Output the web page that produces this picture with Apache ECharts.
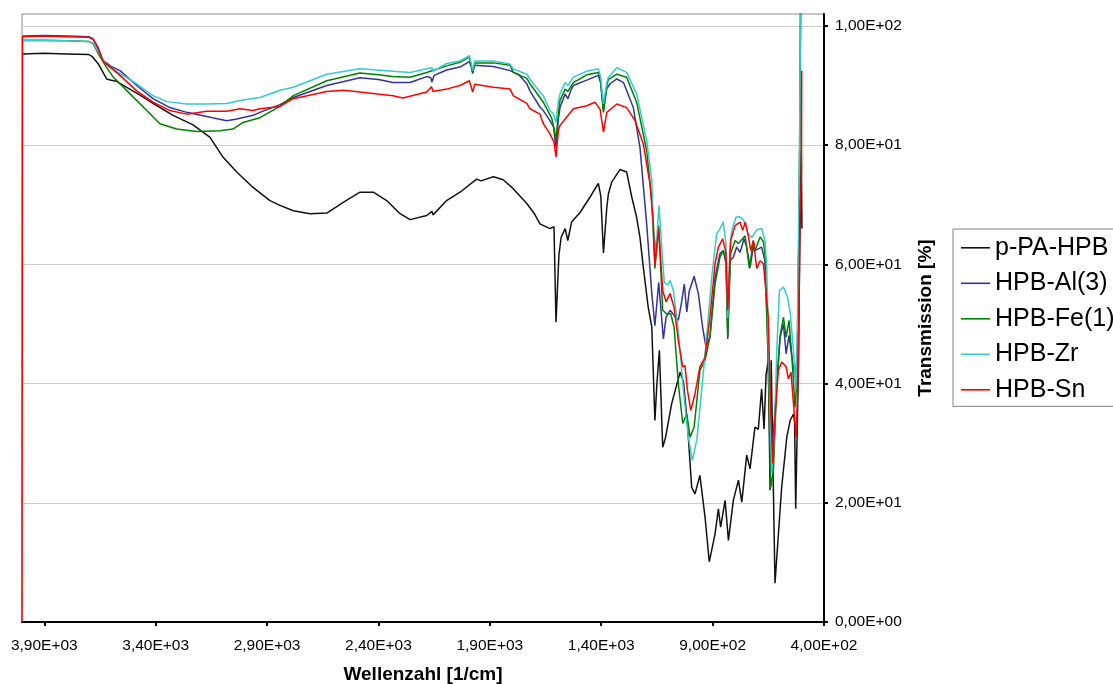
<!DOCTYPE html>
<html>
<head>
<meta charset="utf-8">
<title>IR-Spektren</title>
<script src="https://cdn.jsdelivr.net/npm/echarts@6/dist/echarts.min.js"></script>
<style>
  html, body { margin: 0; padding: 0; background: #ffffff; }
  #chart { width: 1113px; height: 684px; }
</style>
</head>
<body>
<div id="chart"></div>
<script>
// Series names and colours
const seriesNames = ['p-PA-HPB', 'HPB-Al(3)', 'HPB-Fe(1)', 'HPB-Zr', 'HPB-Sn'];
const seriesColors = ['#111111', '#333399', '#008000', '#33cccc', '#ff0000'];

// Axis tick positions
const xTicks = [3900, 3400, 2900, 2400, 1900, 1400, 900, 400];
const yTicks = [0, 20, 40, 60, 80, 100];

// p-PA-HPB: wavenumber [1/cm] and transmission [%]
const wnPA = [3998, 3900, 3800, 3700, 3686, 3657, 3620, 3600, 3575, 3530, 3470, 3412, 3322, 3232, 3156, 3098, 3036, 2963, 2887, 2842,
  2782, 2707, 2632, 2558, 2483, 2423, 2363, 2303, 2258, 2183, 2160, 2155, 2094, 2034, 1959, 1940, 1884, 1840, 1795, 1734,
  1700, 1675, 1630, 1612, 1603, 1590, 1580, 1562, 1550, 1533, 1495, 1450, 1413, 1402, 1390, 1375, 1368, 1353, 1316, 1286,
  1263, 1241, 1226, 1211, 1189, 1173, 1159, 1150, 1139, 1124, 1111, 1084, 1046, 1031, 1013, 994, 979, 957, 934, 915,
  889, 874, 864, 844, 829, 807, 784, 769, 747, 732, 710, 695, 680, 669, 660, 650, 642, 637, 620, 590,
  567, 552, 537, 532, 527, 515, 508, 502, 499];
const tPA = [95.3, 95.4, 95.3, 95.2, 94.9, 93.6, 91.1, 90.9, 90.7, 89.7, 88.4, 87.0, 85.0, 83.4, 81.3, 78.0, 75.5, 72.9, 70.7, 69.9,
  69.0, 68.5, 68.6, 70.4, 72.1, 72.1, 70.7, 68.5, 67.5, 68.2, 68.9, 68.3, 70.7, 72.1, 74.3, 74.0, 74.7, 74.2, 72.7, 70.2,
  68.5, 66.8, 66.0, 66.3, 50.3, 61.5, 64.5, 66.0, 64.0, 67.1, 68.7, 71.3, 73.6, 71.5, 61.9, 69.5, 71.8, 73.8, 75.9, 75.5,
  71.3, 67.9, 64.5, 59.5, 52.8, 49.5, 33.8, 40.0, 45.6, 29.3, 31.0, 36.6, 41.9, 40.3, 33.3, 22.6, 21.5, 24.6, 17.6, 10.1,
  14.8, 19.0, 15.9, 20.4, 13.7, 20.4, 23.8, 20.1, 28.0, 25.7, 32.7, 32.3, 39.1, 32.4, 41.5, 43.9, 22.1, 43.9, 6.5, 22.6,
  31.0, 33.8, 34.9, 33.5, 19.0, 42.8, 65.1, 79.0, 66.0];

// HPB-Al(3)
const wnAl = [3998, 3900, 3800, 3700, 3680, 3660, 3635, 3600, 3560, 3485, 3412, 3336, 3261, 3171, 3081, 3036, 2963, 2932, 2842, 2782,
  2632, 2483, 2400, 2335, 2258, 2183, 2165, 2160, 2150, 2094, 2034, 1992, 1984, 1977, 1968, 1884, 1809, 1770, 1734, 1720,
  1675, 1660, 1630, 1614, 1603, 1592, 1585, 1562, 1550, 1533, 1525, 1465, 1413, 1403, 1390, 1375, 1360, 1330, 1300, 1256,
  1226, 1196, 1173, 1159, 1142, 1121, 1109, 1091, 1076, 1054, 1040, 1027, 1016, 1005, 983, 964, 945, 930, 912, 889,
  867, 852, 840, 832, 822, 807, 792, 777, 759, 747, 732, 717, 710, 680, 665, 650, 642, 632, 612, 597,
  582, 570, 557, 544, 530, 519, 510, 504];
const tAl = [98.3, 98.4, 98.3, 98.2, 97.8, 96.5, 94.2, 93.2, 92.5, 90.0, 87.8, 86.3, 85.5, 84.8, 84.1, 84.4, 85.0, 85.5, 86.8, 88.0,
  90.0, 91.3, 91.0, 90.5, 90.5, 91.5, 91.3, 90.6, 91.7, 92.6, 93.1, 94.0, 93.2, 92.0, 93.4, 93.2, 92.5, 91.8, 90.3, 89.1,
  86.4, 85.8, 84.1, 83.0, 79.6, 84.5, 86.3, 88.6, 87.8, 89.5, 90.0, 90.9, 91.7, 90.5, 85.8, 89.5, 90.3, 91.1, 90.5, 86.3,
  79.6, 66.8, 55.1, 49.7, 57.0, 47.5, 51.1, 52.3, 51.6, 50.6, 53.5, 56.7, 52.0, 55.5, 58.0, 55.1, 49.5, 46.1, 47.8, 57.8,
  61.8, 62.3, 60.1, 47.5, 60.6, 61.2, 62.9, 62.0, 64.3, 62.9, 59.5, 62.9, 62.3, 62.9, 60.6, 44.4, 44.2, 28.8, 40.0, 47.8,
  50.0, 45.0, 48.1, 44.4, 41.1, 45.0, 73.5, 108];

// HPB-Fe(1)
const wnFe = [3998, 3900, 3800, 3700, 3680, 3660, 3620, 3590, 3515, 3440, 3381, 3306, 3216, 3111, 3053, 3008, 2932, 2842, 2782, 2632,
  2483, 2400, 2335, 2258, 2183, 2094, 2034, 1992, 1984, 1977, 1968, 1884, 1809, 1795, 1734, 1720, 1675, 1660, 1622, 1610,
  1603, 1592, 1585, 1562, 1550, 1525, 1465, 1413, 1403, 1390, 1375, 1368, 1330, 1286, 1241, 1196, 1173, 1159, 1142, 1124,
  1106, 1088, 1073, 1054, 1034, 1016, 1001, 983, 957, 934, 912, 889, 867, 852, 840, 832, 819, 799, 784, 754,
  735, 717, 710, 687, 672, 665, 650, 639, 627, 612, 597, 582, 570, 557, 544, 530, 519, 510, 504];
const tFe = [97.6, 97.6, 97.5, 97.4, 97.0, 95.5, 93.0, 91.4, 88.6, 85.8, 83.6, 82.7, 82.3, 82.4, 82.7, 83.8, 84.6, 86.5, 88.3, 90.8,
  92.1, 91.8, 91.5, 91.4, 92.2, 93.3, 93.9, 94.8, 93.4, 92.3, 93.8, 93.8, 93.4, 92.2, 91.2, 90.3, 88.0, 87.2, 84.5, 82.5,
  80.8, 85.5, 87.5, 89.4, 89.0, 90.5, 91.8, 92.2, 91.0, 85.5, 90.0, 91.0, 91.9, 91.4, 87.2, 79.1, 70.7, 59.3, 66.5, 52.3,
  51.7, 51.7, 49.5, 40.0, 33.3, 34.9, 31.0, 32.7, 42.2, 43.9, 47.8, 56.7, 61.2, 62.3, 61.0, 47.8, 61.8, 64.0, 63.5, 64.8,
  59.3, 64.0, 62.3, 64.6, 63.8, 61.8, 42.8, 22.6, 25.4, 40.0, 48.1, 51.1, 47.8, 50.6, 44.4, 36.0, 42.0, 76.3, 110];

// HPB-Zr
const wnZr = [3998, 3900, 3800, 3700, 3680, 3660, 3620, 3560, 3485, 3412, 3350, 3261, 3171, 3081, 3021, 2932, 2842, 2782, 2632, 2483,
  2335, 2258, 2183, 2160, 2155, 2094, 2034, 1992, 1984, 1977, 1968, 1884, 1809, 1795, 1734, 1720, 1675, 1660, 1630, 1615,
  1603, 1592, 1585, 1562, 1550, 1525, 1465, 1413, 1403, 1390, 1375, 1368, 1330, 1286, 1241, 1196, 1173, 1166, 1154, 1141,
  1124, 1117, 1102, 1091, 1076, 1054, 1031, 1009, 991, 971, 949, 927, 904, 882, 867, 852, 840, 832, 822, 814,
  795, 780, 762, 739, 724, 702, 680, 665, 657, 645, 635, 624, 612, 600, 582, 564, 552, 537, 527, 519,
  510, 504];
const tZr = [97.5, 97.5, 97.5, 97.4, 97.1, 95.8, 93.5, 92.0, 90.3, 88.3, 87.3, 86.9, 86.9, 87.0, 87.5, 88.0, 89.2, 89.7, 91.9, 92.8,
  92.4, 92.2, 92.8, 93.0, 92.4, 93.7, 94.1, 95.0, 93.8, 92.5, 94.1, 94.1, 93.6, 92.8, 91.9, 91.1, 88.9, 88.3, 85.8, 85.3,
  83.8, 87.5, 88.6, 90.5, 90.0, 91.4, 92.4, 92.8, 91.5, 86.9, 90.5, 91.4, 93.0, 92.2, 88.6, 80.8, 74.1, 66.2, 62.3, 69.9,
  60.6, 57.0, 56.5, 57.3, 55.6, 48.9, 38.9, 31.0, 27.1, 30.5, 38.9, 47.8, 57.8, 65.1, 66.0, 67.1, 63.4, 51.0, 63.0, 65.7,
  67.9, 68.0, 67.5, 65.1, 64.5, 65.8, 66.0, 64.0, 59.5, 38.9, 25.0, 29.9, 45.6, 55.6, 56.2, 54.5, 52.0, 45.6, 38.9, 51.1,
  79.1, 110];

// HPB-Sn
const wnSn = [4000, 3998, 3900, 3800, 3700, 3680, 3660, 3635, 3560, 3485, 3412, 3336, 3261, 3171, 3081, 3021, 2963, 2932, 2842, 2782,
  2632, 2558, 2483, 2335, 2290, 2183, 2162, 2155, 2094, 2034, 1992, 1984, 1977, 1968, 1884, 1809, 1795, 1734, 1720, 1675,
  1660, 1630, 1612, 1603, 1592, 1585, 1562, 1525, 1465, 1428, 1405, 1390, 1375, 1330, 1286, 1248, 1211, 1181, 1166, 1159,
  1142, 1124, 1109, 1091, 1073, 1054, 1034, 1024, 1013, 998, 979, 957, 934, 912, 889, 874, 855, 840, 832, 819,
  799, 777, 765, 753, 739, 729, 717, 702, 687, 672, 665, 650, 642, 630, 620, 605, 590, 570, 560, 548,
  537, 525, 515, 508, 501, 500];
const tSn = [0, 98.2, 98.3, 98.2, 98.1, 97.7, 96.3, 94.0, 91.7, 89.1, 87.2, 85.8, 85.2, 85.7, 85.7, 86.1, 85.8, 86.1, 86.5, 87.8,
  89.0, 89.2, 88.9, 88.3, 87.9, 88.9, 89.8, 89.0, 89.4, 90.0, 90.8, 89.8, 88.9, 90.2, 89.7, 89.4, 88.3, 87.0, 86.1, 85.2,
  83.6, 81.9, 80.5, 78.0, 82.5, 83.3, 84.4, 86.1, 86.6, 87.2, 86.0, 82.2, 85.5, 86.9, 86.3, 84.1, 80.2, 73.5, 66.8, 60.0,
  66.0, 55.6, 53.7, 55.1, 52.8, 47.2, 42.8, 43.0, 38.9, 35.5, 38.3, 42.8, 44.4, 51.1, 60.1, 62.9, 64.3, 62.0, 52.3, 64.0,
  66.5, 67.1, 65.7, 67.1, 64.6, 62.3, 64.0, 59.3, 60.6, 60.1, 60.0, 51.1, 38.9, 26.6, 34.4, 42.2, 43.6, 42.8, 40.8, 41.9,
  36.6, 31.0, 42.8, 67.9, 75.7, 92.5];

const wavenumbers = [wnPA, wnAl, wnFe, wnZr, wnSn];
const transmissions = [tPA, tAl, tFe, tZr, tSn];

const FONT = '"Liberation Sans", Arial, sans-serif';

// German-style scientific notation: 3,90E+03
function sci(v) {
  if (v === 0) return '0,00E+00';
  const e = Math.floor(Math.log10(Math.abs(v)) + 1e-9);
  const m = (v / Math.pow(10, e)).toFixed(2).replace('.', ',');
  return m + 'E' + (e < 0 ? '-' : '+') + String(Math.abs(e)).padStart(2, '0');
}

const chart = echarts.init(document.getElementById('chart'), null, { renderer: 'canvas' });

const series = seriesNames.map((name, i) => ({
  name: name,
  type: 'line',
  symbol: 'none',
  smooth: false,
  clip: true,
  data: wavenumbers[i].map((w, k) => [w, transmissions[i][k]]),
  lineStyle: { color: seriesColors[i], width: 1.5 },
  itemStyle: { color: seriesColors[i] },
  emphasis: { disabled: true },
  z: 2 + i
}));

chart.setOption({
  animation: false,
  backgroundColor: '#ffffff',
  grid: {
    left: 22, right: 289, top: 14, bottom: 62,
    outerBoundsMode: 'none',
    containLabel: false,
    show: true, borderColor: '#8c8c8c', borderWidth: 1, backgroundColor: 'transparent'
  },
  xAxis: {
    type: 'value',
    min: 400, max: 4000,
    inverse: true,
    position: 'bottom',
    name: 'Wellenzahl [1/cm]',
    nameLocation: 'middle',
    nameGap: 43,
    nameTextStyle: { fontFamily: FONT, fontSize: 19, fontWeight: 'bold', color: '#000' },
    axisLine: { show: true, onZero: false, lineStyle: { color: '#000', width: 2 } },
    axisTick: { show: true, inside: false, length: 4, lineStyle: { color: '#000', width: 2 }, customValues: xTicks },
    axisLabel: { customValues: xTicks, formatter: sci, margin: 16, fontFamily: FONT, fontSize: 15.5, color: '#000' },
    splitLine: { show: false }
  },
  yAxis: {
    type: 'value',
    min: 0, max: 102,
    position: 'right',
    name: 'Transmission [%]',
    nameLocation: 'middle',
    nameRotate: 90,
    nameGap: 92,
    nameTextStyle: { fontFamily: FONT, fontSize: 19, fontWeight: 'bold', color: '#000' },
    axisLine: { show: true, onZero: false, lineStyle: { color: '#000', width: 2 } },
    axisTick: { show: true, inside: false, length: 4, lineStyle: { color: '#000', width: 2 }, customValues: yTicks },
    axisLabel: { customValues: yTicks, formatter: sci, margin: 11, fontFamily: FONT, fontSize: 15.5, color: '#000' },
    splitLine: { show: true, lineStyle: { color: '#cccccc', width: 1 } }
  },
  legend: {
    orient: 'vertical',
    left: 953, top: 229,
    padding: [6.3, 60, 4, 8],
    icon: 'rect',
    itemWidth: 29, itemHeight: 1.6, itemGap: 10.5,
    borderColor: '#808080', borderWidth: 1, backgroundColor: '#ffffff',
    textStyle: { fontFamily: FONT, fontSize: 25, color: '#000' },
    data: seriesNames
  },
  series: series
});
</script>
</body>
</html>
